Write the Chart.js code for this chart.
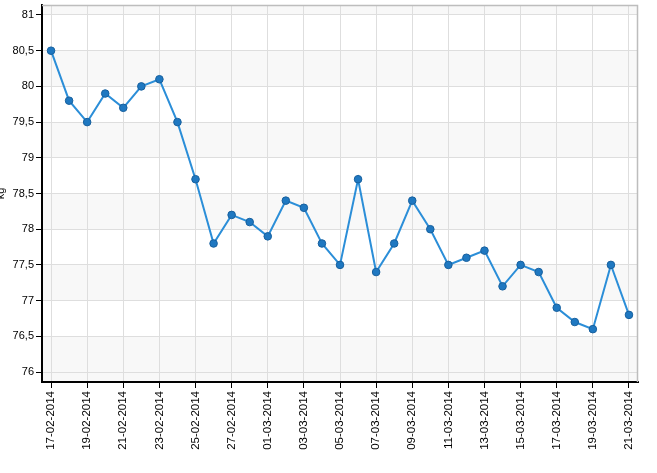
<!DOCTYPE html>
<html>
<head>
<meta charset="utf-8">
<script src="https://cdn.jsdelivr.net/npm/chart.js@4.4.1/dist/chart.umd.min.js"></script>
<style>
html,body{margin:0;padding:0;background:#fff;overflow:hidden;}
#wrap{position:absolute;left:0;top:0;width:657px;height:473px;}
</style>
</head>
<body>
<div id="wrap"><canvas id="c" width="657" height="473"></canvas></div>
<script>
const categories = ["17-02-2014","18-02-2014","19-02-2014","20-02-2014","21-02-2014","22-02-2014","23-02-2014","24-02-2014","25-02-2014","26-02-2014","27-02-2014","28-02-2014","01-03-2014","02-03-2014","03-03-2014","04-03-2014","05-03-2014","06-03-2014","07-03-2014","08-03-2014","09-03-2014","10-03-2014","11-03-2014","12-03-2014","13-03-2014","14-03-2014","15-03-2014","16-03-2014","17-03-2014","18-03-2014","19-03-2014","20-03-2014","21-03-2014"];
const weightKg = [80.5,79.8,79.5,79.9,79.7,80.0,80.1,79.5,78.7,77.8,78.2,78.1,77.9,78.4,78.3,77.8,77.5,78.7,77.4,77.8,78.4,78.0,77.5,77.6,77.7,77.2,77.5,77.4,76.9,76.7,76.6,77.5,76.8];
const yTicks = [76,76.5,77,77.5,78,78.5,79,79.5,80,80.5,81];
const yAxisTitle = "kg";

const FONT = "'Liberation Sans', Arial, sans-serif";

const bandsPlugin = {
  id: 'bands',
  beforeDraw(chart) {
    const {ctx, chartArea: a, scales: {y}} = chart;
    ctx.save();
    ctx.fillStyle = '#f8f8f8';
    ctx.fillRect(a.left, a.top, a.width, y.getPixelForValue(81) - a.top);
    for (let v = 80; v >= 76; v -= 1) {
      const t = y.getPixelForValue(v + 0.5), b = y.getPixelForValue(v);
      ctx.fillRect(a.left, t, a.width, b - t);
    }
    ctx.fillRect(a.left, y.getPixelForValue(76), a.width, a.bottom - y.getPixelForValue(76));
    ctx.restore();
  },
  beforeDatasetsDraw(chart) {
    const {ctx, chartArea: a} = chart;
    ctx.save();
    ctx.strokeStyle = '#bdbdbd';
    ctx.lineWidth = 1.5;
    ctx.beginPath();
    ctx.moveTo(a.left, a.top + 0.5);
    ctx.lineTo(a.right - 0.5, a.top + 0.5);
    ctx.lineTo(a.right - 0.5, a.bottom);
    ctx.stroke();
    ctx.restore();
  }
};

new Chart(document.getElementById('c'), {
  type: 'line',
  data: {
    labels: categories,
    datasets: [{
      data: weightKg,
      borderColor: '#2b8ed8',
      borderWidth: 2,
      backgroundColor: '#1f78c1',
      pointBackgroundColor: '#1f78c1',
      pointBorderColor: '#17609e',
      pointBorderWidth: 1,
      pointRadius: 3.8,
      tension: 0,
      fill: false
    }]
  },
  options: {
    responsive: false,
    animation: false,
    devicePixelRatio: 1,
    layout: { padding: { top: 2, right: 19, left: 0, bottom: 0 } },
    plugins: { legend: { display: false }, tooltip: { enabled: false } },
    scales: {
      x: {
        type: 'category',
        offset: true,
        grid: { color: '#dedede', lineWidth: 1, tickColor: '#000', tickLength: 6, drawOnChartArea: true },
        border: { color: '#000', width: 2 },
        ticks: {
          autoSkip: false,
          maxRotation: 90, minRotation: 90,
          color: '#000',
          font: { family: FONT, size: 11.5 },
          padding: 3,
          callback: function(v, i) { return i % 2 === 0 ? this.getLabelForValue(v) : null; }
        },
        afterFit(scale) { scale.height = 91; scale.paddingLeft = 0; scale.paddingRight = 0; }
      },
      y: {
        min: 75.86, max: 81.14,
        afterBuildTicks(scale) { scale.ticks = yTicks.map(v => ({ value: v })); },
        grid: { color: '#dedede', lineWidth: 1, tickColor: '#000', tickLength: 6 },
        border: { color: '#000', width: 2 },
        ticks: {
          color: '#000',
          font: { family: FONT, size: 11 },
          padding: 2,
          callback: v => String(v).replace('.', ',')
        },
        title: { display: true, text: yAxisTitle, color: '#000', font: { family: FONT, size: 11 }, padding: { top: -6, bottom: 0 } },
        afterFit(scale) { scale.width = 42; scale.paddingTop = 0; scale.paddingBottom = 0; }
      }
    }
  },
  plugins: [bandsPlugin]
});
</script>
</body>
</html>
